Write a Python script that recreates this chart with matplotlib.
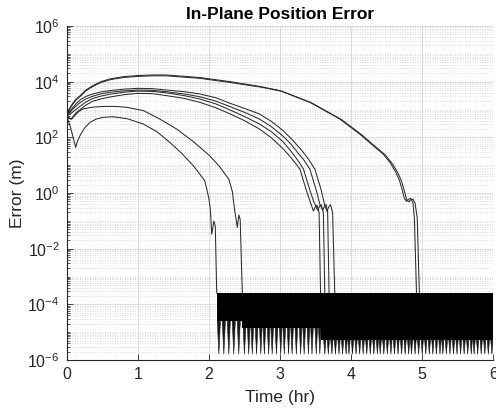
import numpy as np
import matplotlib
matplotlib.use("Agg")
import matplotlib.pyplot as plt
from matplotlib.ticker import FixedLocator, NullFormatter, LogFormatterSciNotation

plt.rcParams['font.family'] = ['Liberation Sans', 'DejaVu Sans']
plt.rcParams['mathtext.fontset'] = 'custom'
plt.rcParams['mathtext.rm'] = 'Liberation Sans'
plt.rcParams['mathtext.it'] = 'Liberation Sans:italic'
plt.rcParams['mathtext.bf'] = 'Liberation Sans:bold'

# ---------------- data (time in hr, log10 of error in m) ----------------
# Group A (highest peak, two nearly coincident runs)
a1_t = [0, 0.03, 0.08, 0.13, 0.19, 0.27, 0.37, 0.48, 0.61, 0.8, 1.0, 1.2, 1.4, 1.87, 2.3, 2.71,
        3.0, 3.42, 3.84, 4.12, 4.31, 4.45, 4.56, 4.63, 4.68, 4.72, 4.75, 4.78, 4.81, 4.84, 4.87,
        4.89, 4.92]
a1_l = [2.78, 3.0, 3.2, 3.37, 3.5, 3.7, 3.86, 4.0, 4.10, 4.18, 4.22, 4.24, 4.24, 4.15, 4.0, 3.83,
        3.68, 3.26, 2.66, 2.12, 1.7, 1.4, 1.05, 0.74, 0.45, 0.1, -0.2, -0.3, -0.22, -0.2, -0.35,
        -0.9, -3.59]
a2_t = [0, 0.03, 0.08, 0.13, 0.19, 0.27, 0.37, 0.48, 0.61, 0.8, 1.0, 1.2, 1.4, 1.87, 2.3, 2.74,
        3.03, 3.45, 3.87, 4.15, 4.34, 4.48, 4.59, 4.66, 4.71, 4.75, 4.78, 4.81, 4.84, 4.87, 4.90,
        4.93, 4.96]
a2_l = [2.78, 2.97, 3.17, 3.34, 3.47, 3.67, 3.83, 3.97, 4.07, 4.15, 4.19, 4.21, 4.21, 4.12, 3.97,
        3.80, 3.65, 3.23, 2.63, 2.09, 1.67, 1.37, 1.02, 0.71, 0.42, 0.07, -0.22, -0.32, -0.24,
        -0.22, -0.37, -0.9, -3.59]

# Group B (four runs, peak ~5e3)
b1_t = [0, 0.04, 0.08, 0.13, 0.19, 0.27, 0.37, 0.48, 0.61, 0.8, 1.0, 1.2, 1.4, 1.65, 1.87, 2.1,
        2.3, 2.5, 2.71, 2.88, 3.04, 3.17, 3.3, 3.4, 3.49, 3.58, 3.63, 3.66, 3.69, 3.71, 3.74, 3.77]
b1_l = [2.78, 2.92, 3.05, 3.2, 3.35, 3.47, 3.56, 3.63, 3.68, 3.73, 3.76, 3.75, 3.70, 3.64, 3.56,
        3.42, 3.22, 3.04, 2.84, 2.57, 2.25, 1.92, 1.55, 1.22, 0.86, 0.1, -0.45, -0.65, -0.48,
        -0.42, -0.7, -3.59]
b2_t = [0, 0.04, 0.08, 0.13, 0.19, 0.27, 0.37, 0.48, 0.61, 0.8, 1.0, 1.2, 1.4, 1.65, 1.87, 2.1,
        2.3, 2.5, 2.71, 2.88, 3.04, 3.15, 3.25, 3.34, 3.42, 3.51, 3.56, 3.60, 3.63, 3.65, 3.67, 3.69]
b2_l = [2.78, 2.88, 3.0, 3.12, 3.25, 3.38, 3.48, 3.56, 3.62, 3.67, 3.70, 3.69, 3.64, 3.56, 3.46,
        3.3, 3.1, 2.9, 2.66, 2.38, 2.05, 1.77, 1.45, 1.17, 0.86, 0.1, -0.4, -0.62, -0.46, -0.42,
        -0.7, -3.59]
b3_t = [0, 0.04, 0.08, 0.13, 0.19, 0.27, 0.37, 0.48, 0.61, 0.8, 1.0, 1.2, 1.4, 1.65, 1.87, 2.1,
        2.3, 2.5, 2.71, 2.88, 3.04, 3.12, 3.2, 3.27, 3.33, 3.42, 3.48, 3.53, 3.56, 3.58, 3.61, 3.63]
b3_l = [2.78, 2.82, 2.9, 3.0, 3.12, 3.27, 3.40, 3.48, 3.55, 3.62, 3.66, 3.65, 3.60, 3.50, 3.38,
        3.2, 2.98, 2.75, 2.48, 2.2, 1.85, 1.61, 1.35, 1.1, 0.86, 0.1, -0.35, -0.62, -0.46, -0.42,
        -0.7, -3.59]
b4_t = [0, 0.03, 0.06, 0.1, 0.14, 0.19, 0.27, 0.37, 0.48, 0.61, 0.8, 1.0, 1.2, 1.4, 1.65, 1.87,
        2.1, 2.3, 2.5, 2.71, 2.88, 3.04, 3.1, 3.16, 3.22, 3.28, 3.37, 3.43, 3.47, 3.50, 3.52, 3.55,
        3.57]
b4_l = [2.78, 2.7, 2.65, 2.78, 2.9, 3.0, 3.16, 3.30, 3.38, 3.45, 3.53, 3.58, 3.57, 3.50, 3.40,
        3.26, 3.06, 2.84, 2.6, 2.30, 1.98, 1.6, 1.43, 1.25, 1.06, 0.86, 0.1, -0.35, -0.65, -0.48,
        -0.44, -0.7, -3.59]

# Run with peak ~1.2e3
p2_t = [0, 0.035, 0.07, 0.12, 0.17, 0.23, 0.35, 0.51, 0.68, 0.84, 1.08, 1.3, 1.545, 1.78, 2.01,
        2.15, 2.28, 2.33, 2.36, 2.40, 2.42, 2.44, 2.47]
p2_l = [2.78, 2.7, 2.66, 2.8, 2.93, 3.02, 3.08, 3.11, 3.11, 3.08, 2.96, 2.67, 2.3, 1.85, 1.34,
        0.95, 0.5, 0.05, -0.58, -1.24, -0.79, -0.95, -3.59]

# Run with initial dip (~40 m) and peak ~5.5e2
p1_t = [0, 0.06, 0.1, 0.126, 0.15, 0.187, 0.25, 0.327, 0.42, 0.514, 0.65, 0.85, 1.076, 1.27,
        1.45, 1.62, 1.78, 1.88, 1.94, 1.97, 2.0, 2.02, 2.04, 2.07, 2.09, 2.11]
p1_l = [2.78, 2.3, 1.9, 1.64, 1.85, 2.06, 2.33, 2.54, 2.66, 2.72, 2.74, 2.67, 2.48, 2.2,
        1.82, 1.42, 0.98, 0.65, 0.45, 0.14, -0.2, -0.58, -1.48, -1.01, -1.2, -3.59]

# Numerical noise floor region after convergence
noise_top = 2.6e-4
band_t = [2.11, 2.47, 3.58, 6.0]
band_floor = [2.5e-5, 1.4e-5, 5.4e-6, 5.4e-6]
spike_bottom = 1.6e-6
spikes_1 = [2.14, 2.21, 2.28, 2.35, 2.42]
spikes_2 = [2.50, 2.56, 2.61, 2.67, 2.73, 2.78, 2.84, 2.89, 2.95, 3.01, 3.06, 3.12, 3.17, 3.23,
            3.29, 3.34, 3.40, 3.45, 3.51, 3.56]
spikes_3 = [3.63, 3.68, 3.73, 3.78, 3.83, 3.88, 3.93, 3.97, 4.02, 4.07, 4.12, 4.17, 4.22, 4.27,
            4.32, 4.37, 4.41, 4.46, 4.51, 4.56, 4.61, 4.66, 4.71, 4.76, 4.81, 4.85, 4.90, 4.95,
            5.00, 5.05, 5.10, 5.15, 5.20, 5.25, 5.29, 5.34, 5.39, 5.44, 5.49, 5.54, 5.59, 5.64,
            5.69, 5.73, 5.78, 5.83, 5.88, 5.93, 5.98]

x_ticks = [0, 1, 2, 3, 4, 5, 6]
y_ticks = [1e-6, 1e-4, 1e-2, 1e0, 1e2, 1e4, 1e6]

# ---------------- figure ----------------
fig = plt.figure(figsize=(4.96, 4.13), dpi=100)
ax = fig.add_axes([66.7 / 496, 53 / 413, (493.3 - 66.7) / 496, (360 - 26) / 413])

ax.set_yscale('log')
ax.set_xlim(0, 6)
ax.set_ylim(1e-6, 1e6)

line_kw = dict(color='#2a2a2a', lw=0.75)
for t, l in [(a1_t, a1_l), (a2_t, a2_l), (b1_t, b1_l), (b2_t, b2_l), (b3_t, b3_l),
             (b4_t, b4_l), (p2_t, p2_l), (p1_t, p1_l)]:
    ax.plot(t, 10 ** np.asarray(l), **line_kw)

ax.fill_between(band_t, band_floor, noise_top, step='post', color='black', lw=0)

# spikes drawn as narrow wedges hanging below the solid band
for spikes, floor, half_w in [(spikes_1, band_floor[0], 0.022),
                              (spikes_2, band_floor[1], 0.018),
                              (spikes_3, band_floor[2], 0.016)]:
    for s in spikes:
        ax.fill([s - half_w, s + half_w, s], [floor, floor, spike_bottom],
                color='#161616', lw=0.4, ec='#161616')

ax.xaxis.set_major_locator(FixedLocator(x_ticks))
ax.yaxis.set_major_locator(FixedLocator(y_ticks))
ax.yaxis.set_major_formatter(LogFormatterSciNotation())
minor = [k * 10.0 ** e for e in range(-6, 6) for k in range(1, 10) if not (k == 1 and e % 2 == 0)]
ax.yaxis.set_minor_locator(FixedLocator(minor))
ax.yaxis.set_minor_formatter(NullFormatter())

ax.grid(True, which='major', color='#dcdcdc', lw=0.7, ls='-')
ax.grid(True, which='minor', axis='y', color='#d0d0d0', lw=0.6, ls=(0, (1, 2)))
ax.set_axisbelow(True)

for s in ['top', 'right']:
    ax.spines[s].set_visible(False)
for s in ['left', 'bottom']:
    ax.spines[s].set_color('#262626')
    ax.spines[s].set_linewidth(0.8)

ax.tick_params(which='major', direction='in', length=4, width=0.6, labelsize=11.5,
               colors='#262626', pad=5)
ax.tick_params(which='minor', direction='in', length=2, width=0.5, colors='#262626')
ax.tick_params(axis='x', which='minor', length=0)

ax.set_xlabel('Time (hr)', fontsize=12.5, color='#262626', labelpad=6)
ax.set_ylabel('Error (m)', fontsize=12.5, color='#262626', labelpad=2)
ax.set_title('In-Plane Position Error', fontsize=12.5, fontweight='bold', color='black', pad=5)

fig.savefig('out.png', dpi=100)
